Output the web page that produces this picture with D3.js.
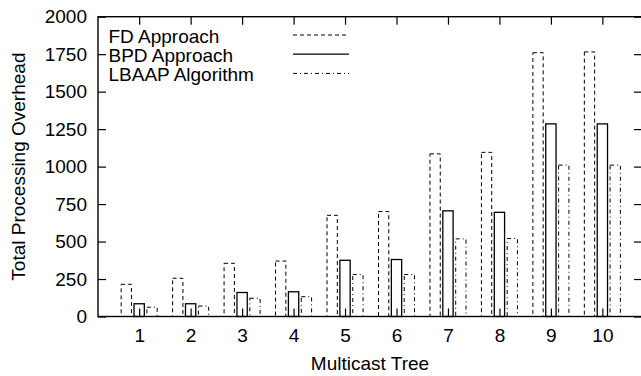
<!DOCTYPE html>
<html>
<head>
<meta charset="utf-8">
<script src="https://cdn.jsdelivr.net/npm/d3@7"></script>
<style>
  html, body { margin: 0; padding: 0; background: #fff; }
  svg { display: block; font-family: "Liberation Sans", Arial, Helvetica, sans-serif; }
</style>
</head>
<body>
<svg id="chart" width="641" height="376"></svg>
<script>
// Multicast trees on the x axis
const trees = [1, 2, 3, 4, 5, 6, 7, 8, 9, 10];

// Total processing overhead per approach
const fdValues    = [215, 255, 355, 370, 675, 700, 1085, 1095, 1760, 1765];
const bpdValues   = [85, 85, 160, 165, 375, 380, 705, 695, 1285, 1285];
const lbaapValues = [62, 70, 122, 132, 280, 280, 518, 520, 1010, 1010];

const seriesNames = ["FD Approach", "BPD Approach", "LBAAP Algorithm"];
const yTicks = [0, 250, 500, 750, 1000, 1250, 1500, 1750, 2000];

const series = [
  { name: seriesNames[0], values: fdValues,    offset: -0.25, dash: "4,3" },
  { name: seriesNames[1], values: bpdValues,   offset: 0,     dash: null },
  { name: seriesNames[2], values: lbaapValues, offset: 0.25,  dash: "4,3,1,3" }
];

const FONT = 19;
const svg = d3.select("#chart");
const plotLeft = 98, plotRight = 642, plotTop = 16.7, plotBottom = 316.5;

const x = d3.scaleLinear().domain([0.2, 10.77]).range([plotLeft, plotRight]);
const y = d3.scaleLinear().domain([0, 2000]).range([plotBottom, plotTop]);
const barW = 0.2;

// bars (outlined boxes)
series.forEach(s => {
  svg.append("g")
    .selectAll("rect")
    .data(s.values)
    .join("rect")
    .attr("x", (d, i) => x(trees[i] + s.offset - barW / 2))
    .attr("width", x(barW) - x(0))
    .attr("y", d => y(d))
    .attr("height", d => y(0) - y(d))
    .attr("fill", "none")
    .attr("stroke", "#000")
    .attr("stroke-width", s.dash ? 1 : 1.3)
    .attr("stroke-dasharray", s.dash);
});

// frame
svg.append("rect")
  .attr("x", plotLeft).attr("y", plotTop)
  .attr("width", plotRight - plotLeft).attr("height", plotBottom - plotTop)
  .attr("fill", "none").attr("stroke", "#000").attr("stroke-width", 1.4);

const tickLen = 8;
// left axis and mirrored right ticks
const yAxis = d3.axisLeft(y).tickValues(yTicks).tickSize(-tickLen).tickPadding(11).tickFormat(d3.format("d"));
const gy = svg.append("g").attr("transform", `translate(${plotLeft},0)`).call(yAxis);
const yAxisR = d3.axisRight(y).tickValues(yTicks).tickSize(-tickLen).tickFormat("");
const gyr = svg.append("g").attr("transform", `translate(${plotRight},0)`).call(yAxisR);

// bottom axis and mirrored top ticks
const xAxis = d3.axisBottom(x).tickValues(trees).tickSize(-tickLen).tickPadding(12.5).tickFormat(d3.format("d"));
const gx = svg.append("g").attr("transform", `translate(0,${plotBottom})`).call(xAxis);
const xAxisT = d3.axisTop(x).tickValues(trees).tickSize(-tickLen).tickFormat("");
const gxt = svg.append("g").attr("transform", `translate(0,${plotTop})`).call(xAxisT);

[gy, gyr, gx, gxt].forEach(g => {
  g.attr("font-size", FONT).attr("font-family", null);
  g.select(".domain").remove();
  g.selectAll(".tick line").attr("stroke", "#000").attr("stroke-width", 1.2);
  g.selectAll("text").attr("fill", "#000");
});

// axis titles
svg.append("text")
  .attr("x", 370).attr("y", 370)
  .attr("text-anchor", "middle").attr("font-size", FONT)
  .text("Multicast Tree");

svg.append("text")
  .attr("transform", `translate(25,${(plotTop + plotBottom) / 2}) rotate(-90)`)
  .attr("text-anchor", "middle").attr("font-size", FONT)
  .text("Total Processing Overhead");

// legend
const legend = svg.append("g");
series.forEach((s, i) => {
  const ly = 35 + i * 19.2;
  legend.append("text")
    .attr("x", 108.5).attr("y", ly + 7.5)
    .attr("font-size", FONT)
    .text(s.name);
  legend.append("line")
    .attr("x1", 293).attr("x2", 349)
    .attr("y1", ly).attr("y2", ly)
    .attr("stroke", "#000")
    .attr("stroke-width", s.dash ? 1 : 1.2)
    .attr("stroke-dasharray", s.dash);
});
</script>
</body>
</html>
